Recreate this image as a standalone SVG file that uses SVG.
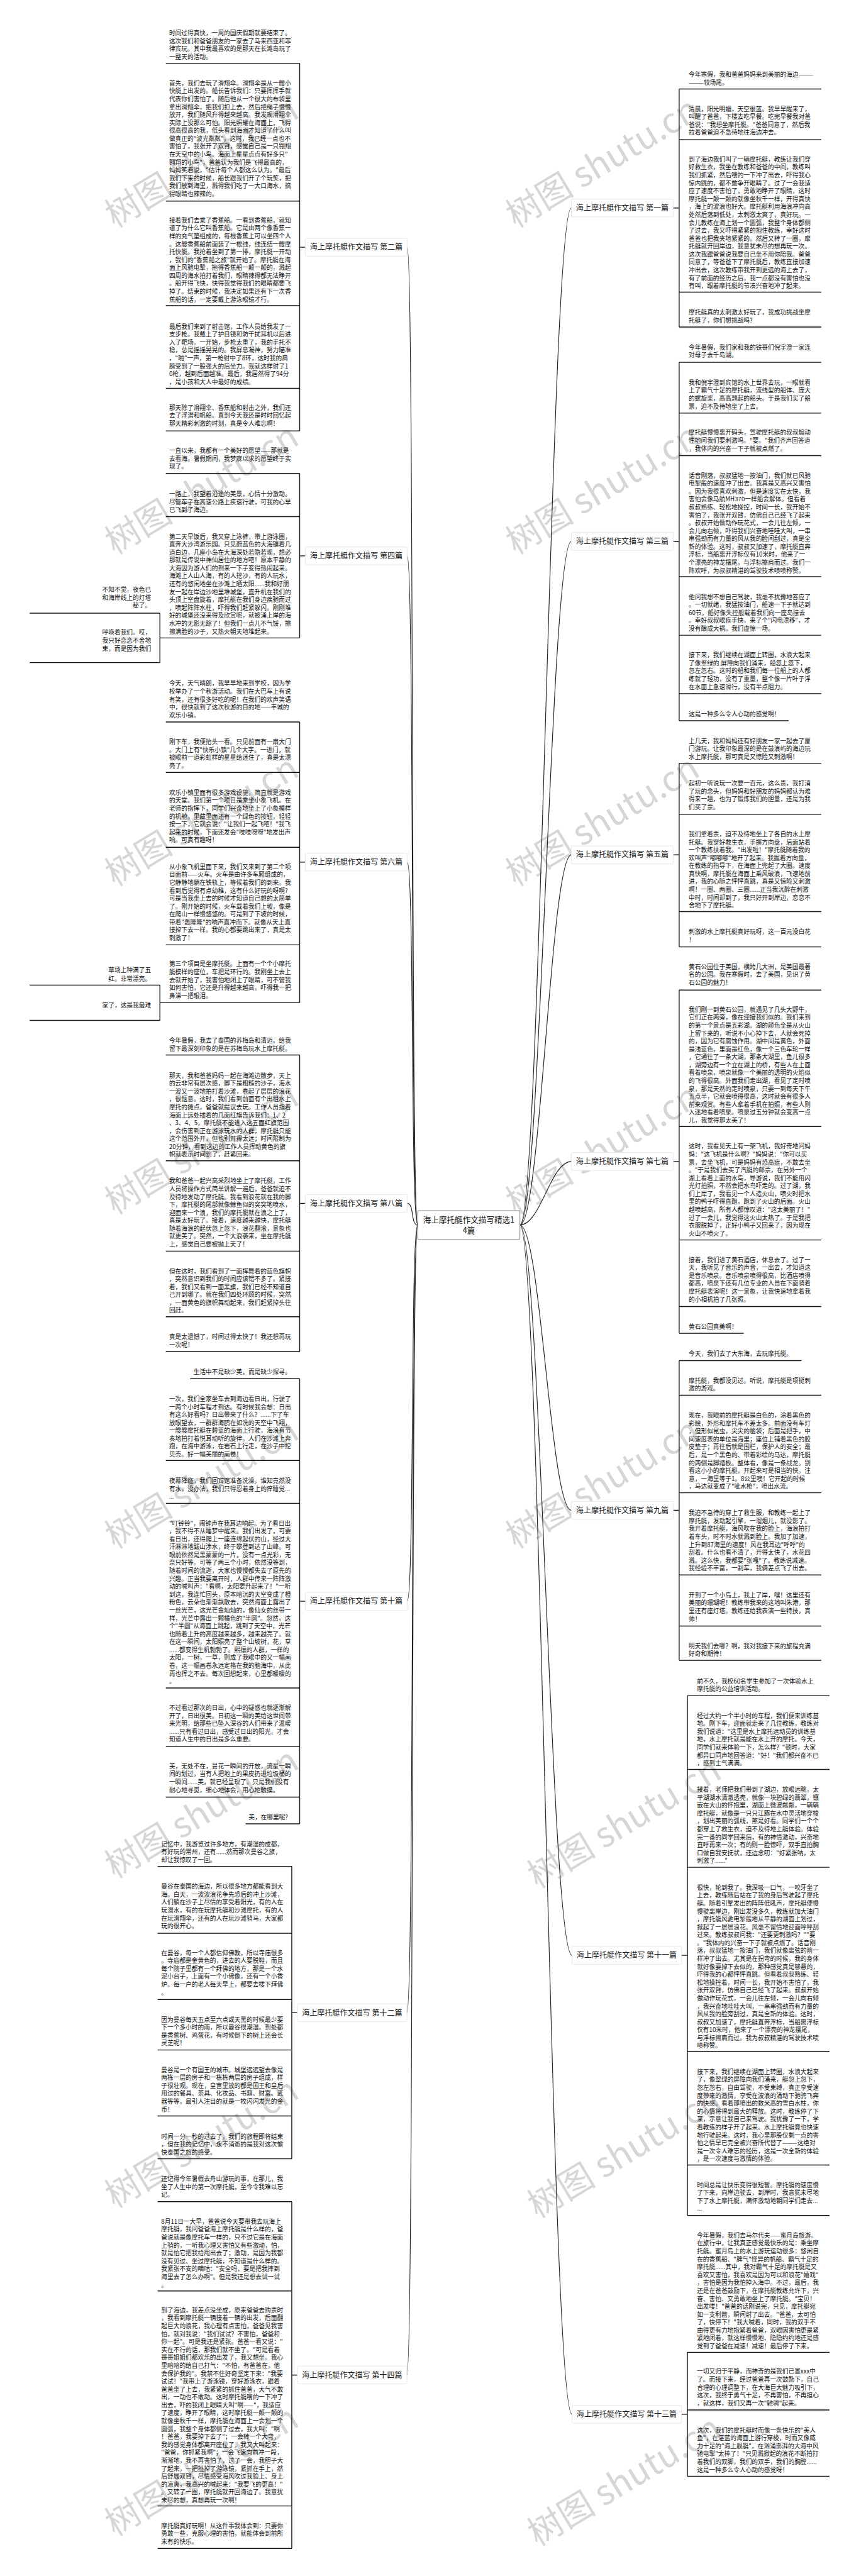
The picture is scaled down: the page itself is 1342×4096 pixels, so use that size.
<svg xmlns="http://www.w3.org/2000/svg" width="1342" height="4096" viewBox="0 0 1342 4096">
<style>
.t{font-family:"Noto Sans CJK SC","Noto Sans",sans-serif;font-size:18.5px;fill:#111}
.ln{stroke:#111;stroke-width:2.6;fill:none}
.cv{stroke:#222;stroke-width:2.2;fill:none}
.lb{fill:#fff;stroke:#e2e2e2;stroke-width:1.6}
.lt{font-family:"Noto Sans CJK SC","Noto Sans",sans-serif;font-size:23px;fill:#1a1a1a}
.wm{font-family:"Noto Sans CJK SC","Liberation Serif",serif;font-size:105px;fill:#d6d6d6}
.ce{fill:#fff;stroke:#888;stroke-width:2}
.ctt{font-family:"Noto Sans CJK SC","Noto Sans",sans-serif;font-size:24px;fill:#111;text-anchor:middle}
</style>
<rect width="1342" height="4096" fill="#fff"/>
<g transform="scale(0.52422)">
<g id="watermarks">
<text class="wm" transform="translate(348 693) rotate(-31)">树图 shutu.cn</text>
<text class="wm" transform="translate(348 1684) rotate(-31)">树图 shutu.cn</text>
<text class="wm" transform="translate(348 2690) rotate(-31)">树图 shutu.cn</text>
<text class="wm" transform="translate(348 3686) rotate(-31)">树图 shutu.cn</text>
<text class="wm" transform="translate(348 4700) rotate(-31)">树图 shutu.cn</text>
<text class="wm" transform="translate(348 5700) rotate(-31)">树图 shutu.cn</text>
<text class="wm" transform="translate(348 6700) rotate(-31)">树图 shutu.cn</text>
<text class="wm" transform="translate(348 7695) rotate(-31)">树图 shutu.cn</text>
<text class="wm" transform="translate(1564 693) rotate(-31)">树图 shutu.cn</text>
<text class="wm" transform="translate(1564 1684) rotate(-31)">树图 shutu.cn</text>
<text class="wm" transform="translate(1564 2690) rotate(-31)">树图 shutu.cn</text>
<text class="wm" transform="translate(1564 3686) rotate(-31)">树图 shutu.cn</text>
<text class="wm" transform="translate(1564 4700) rotate(-31)">树图 shutu.cn</text>
<text class="wm" transform="translate(1630 5730) rotate(-31)">树图 shutu.cn</text>
<text class="wm" transform="translate(1630 6730) rotate(-31)">树图 shutu.cn</text>
<text class="wm" transform="translate(1630 7725) rotate(-31)">树图 shutu.cn</text>
</g>

<g id="connectors">
<path class="cv" d="M1267 3716C1245 3716 1257 750 1235 750"/>
<path class="cv" d="M1267 3716C1245 3716 1257 1686 1235 1686"/>
<path class="cv" d="M1267 3716C1245 3716 1257 2615 1235 2615"/>
<path class="cv" d="M1267 3716C1245 3716 1257 3650 1235 3650"/>
<path class="cv" d="M1267 3716C1245 3716 1257 4857 1235 4857"/>
<path class="cv" d="M1267 3716C1245 3716 1257 6105 1234 6105"/>
<path class="cv" d="M1267 3716C1245 3716 1257 7204 1234 7204"/>
<path class="cv" d="M1577 3716C1640 3716 1670 631 1733 631"/>
<path class="cv" d="M1577 3716C1640 3716 1670 1642 1733 1642"/>
<path class="cv" d="M1577 3716C1640 3716 1670 2593 1733 2593"/>
<path class="cv" d="M1577 3716C1640 3716 1670 3523 1733 3523"/>
<path class="cv" d="M1577 3716C1640 3716 1670 4581 1733 4581"/>
<path class="cv" d="M1577 3716C1640 3716 1670 5931 1735 5931"/>
<path class="cv" d="M1577 3716C1640 3716 1670 7323 1735 7323"/>
<path class="ln" d="M926 750H909M909 192V1307"/>
<path class="ln" d="M926 1686H909M909 1436V1935"/>
<path class="ln" d="M926 2615H909M909 2190V3041"/>
<path class="ln" d="M926 3650H909M909 3200V4100"/>
<path class="ln" d="M926 4857H909M909 4182V5532"/>
<path class="ln" d="M902 6105H885M885 5661V6548"/>
<path class="ln" d="M902 7204H885M885 6678V7730"/>
<path class="ln" d="M2042 631H2060M2060 270V992"/>
<path class="ln" d="M2042 1642H2060M2060 1099V2186"/>
<path class="ln" d="M2042 2593H2060M2060 2315V2872"/>
<path class="ln" d="M2042 3523H2060M2060 3003V4044"/>
<path class="ln" d="M2042 4581H2060M2060 4127V5036"/>
<path class="ln" d="M2067 5931H2085M2085 5143V6720"/>
<path class="ln" d="M2067 7323H2085M2085 7135V7511"/>
<path class="ln" d="M503 1935H485M485 1860V2010"/>
<path class="ln" d="M503 3041H485M485 2988V3095"/>
</g>

<g id="center"><rect class="ce" x="1267" y="3672" width="310" height="88" rx="3"/><text class="ctt"><tspan x="1422" y="3708">海上摩托艇作文描写精选1</tspan><tspan x="1422" y="3740">4篇</tspan></text></g>

<g id="b2"><rect class="lb" x="926" y="723" width="309" height="54" rx="2"/><text class="lt" x="940" y="758">海上摩托艇作文描写 第二篇</text></g>
<g id="b4"><rect class="lb" x="926" y="1659" width="309" height="54" rx="2"/><text class="lt" x="940" y="1694">海上摩托艇作文描写 第四篇</text></g>
<g id="b6"><rect class="lb" x="926" y="2588" width="309" height="54" rx="2"/><text class="lt" x="940" y="2623">海上摩托艇作文描写 第六篇</text></g>
<g id="b8"><rect class="lb" x="926" y="3623" width="309" height="54" rx="2"/><text class="lt" x="940" y="3658">海上摩托艇作文描写 第八篇</text></g>
<g id="b10"><rect class="lb" x="926" y="4830" width="309" height="54" rx="2"/><text class="lt" x="940" y="4865">海上摩托艇作文描写 第十篇</text></g>
<g id="b12"><rect class="lb" x="902" y="6078" width="332" height="54" rx="2"/><text class="lt" x="916" y="6113">海上摩托艇作文描写 第十二篇</text></g>
<g id="b14"><rect class="lb" x="902" y="7177" width="332" height="54" rx="2"/><text class="lt" x="916" y="7212">海上摩托艇作文描写 第十四篇</text></g>
<g id="b1"><rect class="lb" x="1733" y="604" width="309" height="54" rx="2"/><text class="lt" x="1747" y="639">海上摩托艇作文描写 第一篇</text></g>
<g id="b3"><rect class="lb" x="1733" y="1615" width="309" height="54" rx="2"/><text class="lt" x="1747" y="1650">海上摩托艇作文描写 第三篇</text></g>
<g id="b5"><rect class="lb" x="1733" y="2566" width="309" height="54" rx="2"/><text class="lt" x="1747" y="2601">海上摩托艇作文描写 第五篇</text></g>
<g id="b7"><rect class="lb" x="1733" y="3496" width="309" height="54" rx="2"/><text class="lt" x="1747" y="3531">海上摩托艇作文描写 第七篇</text></g>
<g id="b9"><rect class="lb" x="1733" y="4554" width="309" height="54" rx="2"/><text class="lt" x="1747" y="4589">海上摩托艇作文描写 第九篇</text></g>
<g id="b11"><rect class="lb" x="1735" y="5904" width="332" height="54" rx="2"/><text class="lt" x="1749" y="5939">海上摩托艇作文描写 第十一篇</text></g>
<g id="b13"><rect class="lb" x="1735" y="7296" width="332" height="54" rx="2"/><text class="lt" x="1749" y="7331">海上摩托艇作文描写 第十三篇</text></g>

<g id="n2-1"><text class="t"><tspan x="513" y="107">时间过得真快，一周的国庆假期就要结束了。</tspan><tspan x="513" y="131">这次我们和爸爸朋友的一家去了马来西亚和菲</tspan><tspan x="513" y="155">律宾玩。其中我最喜欢的是那天在长滩岛玩了</tspan><tspan x="513" y="179">一整天的活动。</tspan></text><path class="ln" d="M503 192H909"/></g>
<g id="n2-2"><text class="t"><tspan x="513" y="259">首先，我们去玩了滑翔伞。滑翔伞是从一艘小</tspan><tspan x="513" y="283">快艇上出发的。船长告诉我们：只要挥挥手就</tspan><tspan x="513" y="307">代表你们害怕了。随后他从一个很大的布袋里</tspan><tspan x="513" y="331">拿出滑翔伞，把我们扣上去，然后把绳子慢慢</tspan><tspan x="513" y="355">放开，我们随风升得越来越高。我发现滑翔伞</tspan><tspan x="513" y="379">实际上没那么可怕。阳光照耀在海面上，飞得</tspan><tspan x="513" y="403">很高很高的我，低头看到海面才知道了什么叫</tspan><tspan x="513" y="427">做真正的"波光粼粼"。这时，我已经一点也不</tspan><tspan x="513" y="451">害怕了，我张开了双臂，感觉自己是一只翱翔</tspan><tspan x="513" y="475">在天空中的小鸟。海面上星星点点有好多只"</tspan><tspan x="513" y="499">翱翔的小鸟"，爸爸认为我们是飞得最高的，</tspan><tspan x="513" y="523">妈妈笑着说，"估计每个人都这么认为。"最后</tspan><tspan x="513" y="547">我们下来的时候，船长跟我们开了个玩笑，把</tspan><tspan x="513" y="571">我们放到海里，溅得我们吃了一大口海水，搞</tspan><tspan x="513" y="595">得眼睛也辣辣的。</tspan></text><path class="ln" d="M503 610H909"/></g>
<g id="n2-3"><text class="t"><tspan x="513" y="675">接着我们去乘了香蕉船。一看到香蕉船，就知</tspan><tspan x="513" y="699">道了为什么它叫香蕉船。它是由两个像香蕉一</tspan><tspan x="513" y="723">样的充气垫组成的，每根香蕉上可以坐四个人</tspan><tspan x="513" y="747">。这艘香蕉船前面装了一根线，线连结一艘摩</tspan><tspan x="513" y="771">托快艇。我抢着坐到了第一排，摩托艇一开动</tspan><tspan x="513" y="795">，我们的"香蕉船之旅"就开始了。摩托艇在海</tspan><tspan x="513" y="819">面上风驰电掣，拖得香蕉船一颠一颠的，溅起</tspan><tspan x="513" y="843">四周的海水拍打着我们，眼睛辣得都无法睁开</tspan><tspan x="513" y="867">。船开得飞快，快得我觉得我们的眼睛都要飞</tspan><tspan x="513" y="891">掉了。结束的时候，我决定如果还有下一次香</tspan><tspan x="513" y="915">蕉船的话，一定要戴上游泳眼镜才行。</tspan></text><path class="ln" d="M503 927H909"/></g>
<g id="n2-4"><text class="t"><tspan x="513" y="997">最后我们来到了射击馆，工作人员给我发了一</tspan><tspan x="513" y="1021">支步枪。我戴上了护目镜和防干扰耳机以后进</tspan><tspan x="513" y="1045">入了靶场。一开始，步枪太重了，我的手托不</tspan><tspan x="513" y="1069">稳，总是摇摇晃晃的。我屏息凝神，努力瞄准</tspan><tspan x="513" y="1093">，"啪"一声，第一枪射中了8环，这时我的肩</tspan><tspan x="513" y="1117">膀受到了一股强大的后坐力。我就这样射了1</tspan><tspan x="513" y="1141">0枪，越到后面越准。最后，我居然得了94分</tspan><tspan x="513" y="1165">，是小孩和大人中最好的成绩。</tspan></text><path class="ln" d="M503 1178H909"/></g>
<g id="n2-5"><text class="t"><tspan x="513" y="1243">那天除了滑翔伞、香蕉船和射击之外，我们还</tspan><tspan x="513" y="1267">去了浮潜和帆船。直到今天我还是时时回忆起</tspan><tspan x="513" y="1291">那天精彩刺激的时刻，真是令人难忘啊！</tspan></text><path class="ln" d="M503 1307H909"/></g>

<g id="n4-1"><text class="t"><tspan x="513" y="1374">一直以来，我都有一个美好的愿望——那就是</tspan><tspan x="513" y="1398">去看海。暑假期间，我梦寐以求的愿望终于实</tspan><tspan x="513" y="1422">现了。</tspan></text><path class="ln" d="M503 1436H909"/></g>
<g id="n4-2"><text class="t"><tspan x="513" y="1505">一路上，我望着沿途的美景，心情十分激动。</tspan><tspan x="513" y="1529">尽管车子在高速公路上疾速行驶，可我的心早</tspan><tspan x="513" y="1553">已飞到了海边。</tspan></text><path class="ln" d="M503 1567H909"/></g>
<g id="n4-3"><text class="t"><tspan x="513" y="1634">第二天早饭后，我又穿上泳裤，带上游泳圈，</tspan><tspan x="513" y="1658">直奔大沙湾游乐园。只见蔚蓝色的大海镶着几</tspan><tspan x="513" y="1682">道白边，几座小岛在大海深处若隐若现，想必</tspan><tspan x="513" y="1706">那就是传说中神仙居住的地方吧！原本平静的</tspan><tspan x="513" y="1730">大海因为游人们的到来一下子变得热闹起来。</tspan><tspan x="513" y="1754">海滩上人山人海，有的人挖沙，有的人玩水，</tspan><tspan x="513" y="1778">还有的悠闲地坐在沙滩上晒太阳......我和好朋</tspan><tspan x="513" y="1802">友一起在岸边沙地里堆城堡，直升机在我们的</tspan><tspan x="513" y="1826">头顶上空盘旋着，摩托艇在我们身边疾驰而过</tspan><tspan x="513" y="1850">，喷起阵阵水柱，吓得我们赶紧躲闪。刚刚堆</tspan><tspan x="513" y="1874">好的城堡还没来得及欣赏呢，就被涌上岸的海</tspan><tspan x="513" y="1898">水冲的无影无踪了！但我们一点儿不气馁，擦</tspan><tspan x="513" y="1922">擦满脸的沙子，又热火朝天地堆起来。</tspan></text><path class="ln" d="M503 1935H909"/></g>
<g id="n4-3a"><text class="t" text-anchor="end"><tspan x="458" y="1796">不知不觉，夜色已</tspan><tspan x="458" y="1819">和海岸线上的灯塔</tspan><tspan x="458" y="1843">秘了。</tspan></text><path class="ln" d="M90 1860H485"/></g>
<g id="n4-3b"><text class="t" text-anchor="end"><tspan x="458" y="1925">呼唤着我们。哎，</tspan><tspan x="458" y="1950">我只好恋恋不舍地</tspan><tspan x="458" y="1974">束，而是因为我们</tspan></text><path class="ln" d="M90 2010H485"/></g>

<g id="n6-1"><text class="t"><tspan x="513" y="2080">今天，天气晴朗，我早早地来到学校，因为学</tspan><tspan x="513" y="2104">校举办了一个秋游活动。我们在大巴车上有说</tspan><tspan x="513" y="2128">有笑，还有很多好吃的呢！在我们的欢声笑语</tspan><tspan x="513" y="2152">中，很快就到了这次秋游的目的地——丰城的</tspan><tspan x="513" y="2176">欢乐小镇。</tspan></text><path class="ln" d="M503 2190H909"/></g>
<g id="n6-2"><text class="t"><tspan x="513" y="2257">刚下车，我便抬头一看。只见前面有一扇大门</tspan><tspan x="513" y="2281">。大门上有"快乐小镇"几个大字。一进门，就</tspan><tspan x="513" y="2305">被眼前一道彩虹样的星星给迷住了，真是太漂</tspan><tspan x="513" y="2329">亮了。</tspan></text><path class="ln" d="M503 2343H909"/></g>
<g id="n6-3"><text class="t"><tspan x="513" y="2411">欢乐小镇里面有很多游戏设施，简直就是游戏</tspan><tspan x="513" y="2435">的天堂。我们第一个项目是乘坐小象飞机。在</tspan><tspan x="513" y="2459">老师的指挥下，同学们兴奋地坐上了小象模样</tspan><tspan x="513" y="2483">的机舱，里藏里面还有一个绿色的按钮，轻轻</tspan><tspan x="513" y="2507">按一下，它就会说："让我们一起飞吧！"我飞</tspan><tspan x="513" y="2531">起来的时候，下面还发会"吱吱呀呀"地发出声</tspan><tspan x="513" y="2555">响。可真有趣呀！</tspan></text><path class="ln" d="M503 2570H909"/></g>
<g id="n6-4"><text class="t"><tspan x="513" y="2636">从小象飞机里面下来，我们又来到了第二个项</tspan><tspan x="513" y="2660">目面前——火车。火车是由许多车厢组成的，</tspan><tspan x="513" y="2684">它静静地躺在铁轨上，等候着我们的到来。我</tspan><tspan x="513" y="2708">看到后觉得有点幼稚，这有什么好玩的呀啊?</tspan><tspan x="513" y="2732">可是当我坐上去的时候才知道自己想的太简单</tspan><tspan x="513" y="2756">了。刚开始的时候，火车载着我们上坡，像是</tspan><tspan x="513" y="2780">在爬山一样慢悠悠的。可是到了下坡的时候，</tspan><tspan x="513" y="2804">带着"轰隆隆"的响声直冲而下。就像从天上直</tspan><tspan x="513" y="2828">接掉下去一样。我的心都要跳出来了，真是太</tspan><tspan x="513" y="2852">刺激了！</tspan></text><path class="ln" d="M503 2866H909"/></g>
<g id="n6-5"><text class="t"><tspan x="513" y="2931">第三个项目是坐摩托艇。上面有一个个小摩托</tspan><tspan x="513" y="2955">艇模样的座位，车把是环行的。我刚坐上去上</tspan><tspan x="513" y="2979">去就开始了，我害怕地闭上了眼睛，可不管我</tspan><tspan x="513" y="3003">如何害怕，它还是升得越来越高，吓得我一把</tspan><tspan x="513" y="3027">鼻涕一把眼泪。</tspan></text><path class="ln" d="M503 3041H909"/></g>
<g id="n6-5a"><text class="t" text-anchor="end"><tspan x="458" y="2949">草场上种满了五</tspan><tspan x="458" y="2975">红。非常漂亮。</tspan></text><path class="ln" d="M90 2988H485"/></g>
<g id="n6-5b"><text class="t" text-anchor="end"><tspan x="458" y="3056">家了，这是我最难</tspan></text><path class="ln" d="M90 3095H485"/></g>

<g id="n8-1"><text class="t"><tspan x="513" y="3163">今年暑假，我去了泰国的苏梅岛和清迈。给我</tspan><tspan x="513" y="3187">留下最深刻印象的是在苏梅岛玩水上摩托艇。</tspan></text><path class="ln" d="M503 3200H909"/></g>
<g id="n8-2"><text class="t"><tspan x="513" y="3269">那天，我和爸爸妈妈一起在海滩边散步，天上</tspan><tspan x="513" y="3293">的云非常有层次感，脚下是粗糙的沙子，海水</tspan><tspan x="513" y="3317">一波又一波地拍打着沙滩，卷起了层层的浪花</tspan><tspan x="513" y="3341">，很惬意。这时，我们看到前面有个出租水上</tspan><tspan x="513" y="3365">摩托的摊点，爸爸就提议去玩。工作人员指着</tspan><tspan x="513" y="3389">海面上远处插着的几面红旗告诉我们：1、2</tspan><tspan x="513" y="3413">、3、4、5，摩托艇不能进入这五面红旗范围</tspan><tspan x="513" y="3437">，会伤害到正在游泳玩水的人群，摩托艇只能</tspan><tspan x="513" y="3461">这个范围外开，但也别开得太远；时间限制为</tspan><tspan x="513" y="3485">20分钟，看到这边的工作人员挥动黄色的旗</tspan><tspan x="513" y="3509">帜就表示时间到了，赶紧回来。</tspan></text><path class="ln" d="M503 3521H909"/></g>
<g id="n8-3"><text class="t"><tspan x="513" y="3589">我和爸爸一起兴高采烈地坐上了摩托艇，工作</tspan><tspan x="513" y="3613">人员将操作方式简单讲解一遍后，爸爸就迫不</tspan><tspan x="513" y="3637">及待地发动了摩托艇。我看到浪花就在我的脚</tspan><tspan x="513" y="3661">下，摩托艇的尾部就像鲸鱼似的突突地喷水，</tspan><tspan x="513" y="3685">迎面来一个浪，我们的摩托艇就在浪之上了，</tspan><tspan x="513" y="3709">真是太好玩了。接着，速度越来越快，摩托艇</tspan><tspan x="513" y="3733">随着海浪的起伏忽上忽下，浪花翻滚，景象也</tspan><tspan x="513" y="3757">就更美了。突然，一个大浪袭来，坐在摩托艇</tspan><tspan x="513" y="3781">上，感觉自己要被抛上天了！</tspan></text><path class="ln" d="M503 3795H909"/></g>
<g id="n8-4"><text class="t"><tspan x="513" y="3862">但在这时，我们看到了一面挥舞着的蓝色旗帜</tspan><tspan x="513" y="3886">，突然意识到我们的时间应该错不多了。紧接</tspan><tspan x="513" y="3910">着，我们又看到一面黑旗，我们已经不知道自</tspan><tspan x="513" y="3934">己开到哪了。就在我们四处环顾的时候，突然</tspan><tspan x="513" y="3958">，一面黄色的旗帜舞动起来，我们赶紧掉头往</tspan><tspan x="513" y="3982">回赶。</tspan></text><path class="ln" d="M503 3994H909"/></g>
<g id="n8-5"><text class="t"><tspan x="513" y="4062">真是太遗憾了，时间过得太快了！我还想再玩</tspan><tspan x="513" y="4086">一次呢！</tspan></text><path class="ln" d="M503 4100H909"/></g>

<g id="n10-1"><text class="t"><tspan x="587" y="4168">生活中不是缺少美，而是缺少探寻。</tspan></text><path class="ln" d="M577 4182H909"/></g>
<g id="n10-2"><text class="t"><tspan x="513" y="4250">一次，我们全家坐车去到海边看日出，行驶了</tspan><tspan x="513" y="4274">一两个小时车程才到达。有时候我会想：日出</tspan><tspan x="513" y="4298">有这么好看吗？日出带来了什么？......下了车</tspan><tspan x="513" y="4322">放眼望去，一群群海鸥在如洗的天空中飞翔，</tspan><tspan x="513" y="4346">一艘艘摩托艇在碧蓝的海面上行驶，海浪有节</tspan><tspan x="513" y="4370">奏地拍打着悦耳动听的旋律。人们在沙滩上奔</tspan><tspan x="513" y="4394">跑，在海中游泳，在岩石上行走，在沙子中挖</tspan><tspan x="513" y="4418">贝壳。好一幅美丽的画卷！</tspan></text><path class="ln" d="M503 4430H909"/></g>
<g id="n10-3"><text class="t"><tspan x="513" y="4498">夜幕降临，我们回宾馆准备洗澡，谁知竟然没</tspan><tspan x="513" y="4522">有水，没办法，我们只得忍着身上的痒睡觉...</tspan><tspan x="513" y="4546">...</tspan></text><path class="ln" d="M503 4560H909"/></g>
<g id="n10-4"><text class="t"><tspan x="513" y="4627">"叮铃铃"，闹钟声在我耳边响起。为了看日出</tspan><tspan x="513" y="4651">，我不得不从睡梦中醒来。我们出发了，可要</tspan><tspan x="513" y="4675">看日出，还得爬上一座连绵起伏的山，经过大</tspan><tspan x="513" y="4699">汗淋淋地跋山涉水，终于攀登到达了山峰。可</tspan><tspan x="513" y="4723">眼前依然是黑蒙蒙的一片，没有一点光彩，无</tspan><tspan x="513" y="4747">奈只好等。可等了两三个小时，依然没等到，</tspan><tspan x="513" y="4771">随着时间的流逝，大家也慢慢都失去了原先的</tspan><tspan x="513" y="4795">兴趣。正当我要离开时，人群中传来一阵阵激</tspan><tspan x="513" y="4819">动的喊叫声："看啊，太阳要升起来了！"一听</tspan><tspan x="513" y="4843">到这，我连忙回头，原本暗沉的天空变成了橙</tspan><tspan x="513" y="4867">粉色，云朵也渐渐飘散去，突然海面上露出了</tspan><tspan x="513" y="4891">一丝光芒，这光芒金灿灿的，像仙女的丝带一</tspan><tspan x="513" y="4915">样，光芒中露出一颗橘色的"半圆"。忽然，这</tspan><tspan x="513" y="4939">个"半圆"从海面上跳起，跳到了天空中，光芒</tspan><tspan x="513" y="4963">也随着上升的高度越来越多，越来越亮了。就</tspan><tspan x="513" y="4987">在这一瞬间，太阳照亮了整个山坡树，花，草</tspan><tspan x="513" y="5011">......都变得生机勃勃了。熙攘的人群，一样的</tspan><tspan x="513" y="5035">太阳，一树，一草，则成了我眼中的又一幅画</tspan><tspan x="513" y="5059">卷，这一幅画卷永远定格在我的脑海中，从此</tspan><tspan x="513" y="5083">再也挥之不去。每次回想起来，心里都暖暖的</tspan><tspan x="513" y="5107">。</tspan></text><path class="ln" d="M503 5120H909"/></g>
<g id="n10-5"><text class="t"><tspan x="513" y="5187">不过看过那次的日出，心中的疑惑也就逐渐解</tspan><tspan x="513" y="5211">开了，日出很美。日初这一瞬的美给这世间带</tspan><tspan x="513" y="5235">来光明，给那些已坠入深谷的人们带来了温暖</tspan><tspan x="513" y="5259">......只有看过日出，感受过日出的阳光，才会</tspan><tspan x="513" y="5283">知道人生中的日出是多么重要。</tspan></text><path class="ln" d="M503 5298H909"/></g>
<g id="n10-6"><text class="t"><tspan x="513" y="5364">美，无处不在，昙花一瞬间的开放，流星一瞬</tspan><tspan x="513" y="5388">间的划过，当有人把地上的果皮扔进垃圾桶的</tspan><tspan x="513" y="5412">一瞬间......美，就已经呈现了。只是我们没有</tspan><tspan x="513" y="5436">耐心地寻觅，细心地体会，用心地触摸。</tspan></text><path class="ln" d="M503 5451H909"/></g>
<g id="n10-7"><text class="t"><tspan x="754" y="5519">美，在哪里呢?</tspan></text><path class="ln" d="M745 5532H909"/></g>

<g id="n12-1"><text class="t"><tspan x="489" y="5600">记忆中，我游览过许多地方，有潮湿的成都，</tspan><tspan x="489" y="5624">有好玩的常州，还有......然而那次曼谷之旅，</tspan><tspan x="489" y="5648">却让我惊叹了一回。</tspan></text><path class="ln" d="M478 5661H885"/></g>
<g id="n12-2"><text class="t"><tspan x="489" y="5729">曼谷在泰国的海边，所以很多地方都能看到大</tspan><tspan x="489" y="5753">海。白天，一波波浪花争先恐后的冲上沙滩，</tspan><tspan x="489" y="5777">人们躺在沙子上尽情的享受着阳光，有的人在</tspan><tspan x="489" y="5801">玩潜水，有的在玩摩托艇和沙滩摩托，有的人</tspan><tspan x="489" y="5825">在玩滑翔伞，还有的人在玩沙滩骑马，大家都</tspan><tspan x="489" y="5849">玩的很开心。</tspan></text><path class="ln" d="M478 5864H885"/></g>
<g id="n12-3"><text class="t"><tspan x="489" y="5930">在曼谷，每一个人都信仰佛教，所以寺庙很多</tspan><tspan x="489" y="5954">。寺庙都是金黄色的，进去的人要脱鞋，而且</tspan><tspan x="489" y="5978">每个院子里都有一个拜佛的地方，那是一个水</tspan><tspan x="489" y="6002">泥小台子，上面有一个小佛像，还有一个小香</tspan><tspan x="489" y="6026">炉。每一户的老人每天早上，都要去楼下拜佛</tspan><tspan x="489" y="6050">。</tspan></text><path class="ln" d="M478 6065H885"/></g>
<g id="n12-4"><text class="t"><tspan x="489" y="6132">因为曼谷每天五点至六点或天黑的时候最少要</tspan><tspan x="489" y="6156">下一个多小时的雨，所以曼谷很潮湿。到处都</tspan><tspan x="489" y="6180">是香蕉树、鸡蛋花，有时候倒下的树上还会长</tspan><tspan x="489" y="6204">灵芝呢！</tspan></text><path class="ln" d="M478 6218H885"/></g>
<g id="n12-5"><text class="t"><tspan x="489" y="6285">曼谷是一个有国王的城市。城堡远远望去像是</tspan><tspan x="489" y="6309">两栋一层的房子和一栋栋两层的房子组成，样</tspan><tspan x="489" y="6333">子很壮观。现在，皇宫里放的都是国王和皇后</tspan><tspan x="489" y="6357">用过的餐具、茶具、化妆品、书籍、财富、武</tspan><tspan x="489" y="6381">器等等。最引人注目的就是一枚闪闪发光的金</tspan><tspan x="489" y="6405">币！</tspan></text><path class="ln" d="M478 6418H885"/></g>
<g id="n12-6"><text class="t"><tspan x="489" y="6487">时间一分一秒的过去了，我们的旅程即将结束</tspan><tspan x="489" y="6511">，但在我的记忆中，永不消逝的是我对这次愉</tspan><tspan x="489" y="6535">快泰国之旅的感受。</tspan></text><path class="ln" d="M478 6548H885"/></g>

<g id="n14-1"><text class="t"><tspan x="489" y="6616">还记得今年暑假去舟山游玩的事，在那儿，我</tspan><tspan x="489" y="6640">坐了人生中的第一次摩托艇，至今令我难以忘</tspan><tspan x="489" y="6664">记。</tspan></text><path class="ln" d="M478 6678H885"/></g>
<g id="n14-2"><text class="t"><tspan x="489" y="6745">8月11日一大早，爸爸说今天要带我去玩海上</tspan><tspan x="489" y="6769">摩托艇，我问爸爸海上摩托艇是什么样的，爸</tspan><tspan x="489" y="6793">爸说就是像摩托车一样的，只不过它是在海面</tspan><tspan x="489" y="6817">上骑的，一听我心理又害怕又有些激动，怕，</tspan><tspan x="489" y="6841">就是怕它把我给甩出去了；激动，是因为我都</tspan><tspan x="489" y="6865">没有见过、坐过摩托艇，不知道是什么样的。</tspan><tspan x="489" y="6889">我紧张不安的嘀咕："安全吗，要是把我摔到</tspan><tspan x="489" y="6913">海里去了怎么办啊"。但是我还是想去试一试</tspan><tspan x="489" y="6937">。</tspan></text><path class="ln" d="M478 6949H885"/></g>
<g id="n14-3"><text class="t"><tspan x="489" y="7014">到了海边，我差点没坐成，原来爸爸去购票时</tspan><tspan x="489" y="7038">，我看到摩托艇一辆接着一辆的出发，后面翻</tspan><tspan x="489" y="7062">起巨大的浪花，我心理有点害怕，爸爸见我害</tspan><tspan x="489" y="7086">怕，就对我说："我们试试？不害怕，爸爸和</tspan><tspan x="489" y="7110">你一起"。可是我还是紧张。爸爸一看又说："</tspan><tspan x="489" y="7134">实在不行的话，那我们就不坐了。"可是看着</tspan><tspan x="489" y="7158">哥哥姐姐们都欢乐的出发了，我又想坐。我心</tspan><tspan x="489" y="7182">里暗暗的给自己打气："不怕，有爸爸在，他</tspan><tspan x="489" y="7206">会保护我的"。我禁不住好奇坚定下来："我要</tspan><tspan x="489" y="7230">试试！"我带上了游泳镜，穿好游泳衣，跟着</tspan><tspan x="489" y="7254">爸爸坐了上去，我紧紧的抓住爸爸，大气不敢</tspan><tspan x="489" y="7278">出，一动也不敢动。这时摩托艇嗖的一下冲了</tspan><tspan x="489" y="7302">出去，吓的我闭上眼睛大叫"啊——"，我适应</tspan><tspan x="489" y="7326">了速度，睁开了眼睛，这时摩托艇一颠一颠的</tspan><tspan x="489" y="7350">就像坐秋千一样，摩托艇在海面上一会划一个</tspan><tspan x="489" y="7374">圆弧，我整个身体都侧了过去，我大叫："啊</tspan><tspan x="489" y="7398">！爸爸，我要掉下去了"；一会转一个大弯，</tspan><tspan x="489" y="7422">我的感觉身体都离开座位了，我又大叫起来：</tspan><tspan x="489" y="7446">"爸爸，你抓紧我啊"；一会飞速向前冲一段，</tspan><tspan x="489" y="7470">渐渐地，我不再害怕了，过了一会，我胆子大</tspan><tspan x="489" y="7494">了起来，一把扯掉了游泳镜，紧抓在手上，然</tspan><tspan x="489" y="7518">后舒展双臂，尽情感受海风吹过我脸上、身上</tspan><tspan x="489" y="7542">的凉爽，我高兴的喊起来："我要飞的更高！"</tspan><tspan x="489" y="7566">。又转了一圈，摩托艇就开回海边了。我意犹</tspan><tspan x="489" y="7590">未尽的想，真想再玩一次啊！</tspan></text><path class="ln" d="M478 7601H885"/></g>
<g id="n14-4"><text class="t"><tspan x="489" y="7668">摩托艇真好玩啊！从这件事我体会到：只要你</tspan><tspan x="489" y="7692">勇敢一些，克服心理的害怕，就能体会到前所</tspan><tspan x="489" y="7716">未有的快乐。</tspan></text><path class="ln" d="M478 7730H885"/></g>

<g id="n1-1"><text class="t"><tspan x="2089" y="233">今年寒假，我和爸爸妈妈来到美丽的海边———</tspan><tspan x="2089" y="257">———较场尾。</tspan></text><path class="ln" d="M2060 270H2491"/></g>
<g id="n1-2"><text class="t"><tspan x="2089" y="337">清晨，阳光明媚，天空很蓝。我早早醒来了，</tspan><tspan x="2089" y="361">叫醒了爸爸，下楼去吃早餐。吃完早餐我对爸</tspan><tspan x="2089" y="385">爸说："我想坐摩托艇。"爸爸同意了，然后我</tspan><tspan x="2089" y="409">拉着爸爸迫不急待地往海边冲去。</tspan></text><path class="ln" d="M2060 424H2491"/></g>
<g id="n1-3"><text class="t"><tspan x="2089" y="490">到了海边我们叫了一辆摩托艇，教练让我们穿</tspan><tspan x="2089" y="514">好救生衣，我坐在教练和爸爸的中间，教练叫</tspan><tspan x="2089" y="538">我们抓紧，然后嗖的一下冲了出去，吓得我心</tspan><tspan x="2089" y="562">惊内跳的，都不敢争开眼睛了。过了一会我适</tspan><tspan x="2089" y="586">应了速度不害怕了，勇敢地睁开了眼睛，这时</tspan><tspan x="2089" y="610">摩托艇一颠一颠的就像坐秋千一样，开得真快</tspan><tspan x="2089" y="634">，海上的波浪也好大。摩托艇利用海浪冲向高</tspan><tspan x="2089" y="658">处然后落到低处，太刺激太爽了，真好玩。一</tspan><tspan x="2089" y="682">会儿教练在海上划一个圆弧，我整个身体都侧</tspan><tspan x="2089" y="706">了过去，我又吓得紧紧的抱住教练，幸好这时</tspan><tspan x="2089" y="730">爸爸也把我夹地紧紧的。然后又转了一圈，摩</tspan><tspan x="2089" y="754">托艇就开回岸边，我意犹未尽的想再玩一次。</tspan><tspan x="2089" y="778">这次我跟爸爸说我要自己坐不用你陪我。爸爸</tspan><tspan x="2089" y="802">同意了，等爸爸下了摩托艇后，教练直接加速</tspan><tspan x="2089" y="826">冲出去，这次教练带我开到更远的海上去了，</tspan><tspan x="2089" y="850">有了前面的经历之后，我一点都没有害怕也没</tspan><tspan x="2089" y="874">有叫，跟着摩托艇的节凑兴奋地冲了起来。</tspan></text><path class="ln" d="M2060 886H2491"/></g>
<g id="n1-4"><text class="t"><tspan x="2089" y="954">摩托艇真的太刺激太好玩了，我成功挑战坐摩</tspan><tspan x="2089" y="978">托艇了，你们想挑战吗?</tspan></text><path class="ln" d="M2060 992H2491"/></g>

<g id="n3-1"><text class="t"><tspan x="2089" y="1060">今年暑假，我们家和我的铁哥们倪宇澄一家连</tspan><tspan x="2089" y="1084">对母子去千岛湖。</tspan></text><path class="ln" d="M2060 1099H2491"/></g>
<g id="n3-2"><text class="t"><tspan x="2089" y="1167">我和倪宇澄到宾馆的水上世界去玩，一眼就看</tspan><tspan x="2089" y="1191">上了霸气十足的摩托艇，流线型的船体、庞大</tspan><tspan x="2089" y="1215">的螺旋桨，高高翘起的船头。于是我们买了船</tspan><tspan x="2089" y="1239">票，迫不及待地坐了上去。</tspan></text><path class="ln" d="M2060 1253H2491"/></g>
<g id="n3-3"><text class="t"><tspan x="2089" y="1319">摩托艇慢慢离开码头，驾驶摩托艇的叔叔煽动</tspan><tspan x="2089" y="1343">性地问我们要刺激吗。"要。"我们齐声回答道</tspan><tspan x="2089" y="1367">，我体内的兴奋一下子就被点燃了。</tspan></text><path class="ln" d="M2060 1382H2491"/></g>
<g id="n3-4"><text class="t"><tspan x="2089" y="1449">话音刚落，叔叔猛地一按油门，我们就已风驰</tspan><tspan x="2089" y="1473">电掣般的速度冲了出去。我真是又高兴又害怕</tspan><tspan x="2089" y="1497">。因为我很喜欢刺激，但是速度实在太快，我</tspan><tspan x="2089" y="1521">害怕会像马航MH370一样船会解体。但看着</tspan><tspan x="2089" y="1545">叔叔熟练、轻松地操控，时间一长，我开始不</tspan><tspan x="2089" y="1569">害怕了，我张开双臂，仿佛自己已经飞了起来</tspan><tspan x="2089" y="1593">。叔叔开始做动作玩花式，一会儿往左倾，一</tspan><tspan x="2089" y="1617">会儿向右倾，吓得我们兴奋地哇哇大叫，一串</tspan><tspan x="2089" y="1641">串强劲而有力量的风从我的脸间刮过，真是全</tspan><tspan x="2089" y="1665">新的体验。这时，叔叔又加速了，摩托艇直奔</tspan><tspan x="2089" y="1689">浮标，当船离开浮标仅有10米时，他来了一</tspan><tspan x="2089" y="1713">个漂亮的神龙摆尾，与浮标擦肩而过。我们一</tspan><tspan x="2089" y="1737">阵欢呼，为叔叔精湛的驾驶技术啧啧称赞。</tspan></text><path class="ln" d="M2060 1749H2491"/></g>
<g id="n3-5"><text class="t"><tspan x="2089" y="1817">他问我想不想自己驾驶，我毫不犹豫地答应了</tspan><tspan x="2089" y="1841">。一切就绪，我猛按油门，船速一下子就达到</tspan><tspan x="2089" y="1865">60节，船好像失控般载着我们向一座岛撞去</tspan><tspan x="2089" y="1889">。幸好叔叔眼疾手快，来了个"闪电漂移"，才</tspan><tspan x="2089" y="1913">没有酿成大祸。我们虚惊一场。</tspan></text><path class="ln" d="M2060 1927H2491"/></g>
<g id="n3-6"><text class="t"><tspan x="2089" y="1994">接下来，我们继续在湖面上转圈，水浪大起来</tspan><tspan x="2089" y="2018">了像翠绿的.屏障向我们涌来，船忽上忽下，</tspan><tspan x="2089" y="2042">忽左忽右。这时的船和我们每一位船上的人都</tspan><tspan x="2089" y="2066">练就了轻功，没有了重量，整个像一片叶子浮</tspan><tspan x="2089" y="2090">在水面上急速滑行，没有半点阻力。</tspan></text><path class="ln" d="M2060 2104H2491"/></g>
<g id="n3-7"><text class="t"><tspan x="2089" y="2172">这是一种多么令人心动的感觉啊！</tspan></text><path class="ln" d="M2060 2186H2392"/></g>

<g id="n5-1"><text class="t"><tspan x="2089" y="2254">上几天，我和妈妈还有好朋友一家一起去了厦</tspan><tspan x="2089" y="2278">门游玩。让我印象最深的是在鼓浪屿的海边玩</tspan><tspan x="2089" y="2302">水上摩托艇，那可真是又惊险又刺激啊！</tspan></text><path class="ln" d="M2060 2315H2491"/></g>
<g id="n5-2"><text class="t"><tspan x="2089" y="2383">起初一听说玩一次要一百元，这么贵，我打消</tspan><tspan x="2089" y="2407">了玩的念头，但妈妈和好朋友的妈妈都认为难</tspan><tspan x="2089" y="2431">得来一趟，也为了锻炼我们的胆量，还是为我</tspan><tspan x="2089" y="2455">们买了票。</tspan></text><path class="ln" d="M2060 2470H2491"/></g>
<g id="n5-3"><text class="t"><tspan x="2089" y="2537">我们拿着票，迫不及待地坐上了各自的水上摩</tspan><tspan x="2089" y="2561">托艇。我穿好救生衣，手握方向盘，后面站着</tspan><tspan x="2089" y="2585">一个教练扶着我。"出发啦！"摩托艇随着我的</tspan><tspan x="2089" y="2609">欢叫声"嘟嘟嘟"地开了起来。我握着方向盘，</tspan><tspan x="2089" y="2633">在教练的指导下，在海面上兜起了大圈。速度</tspan><tspan x="2089" y="2657">真快啊，摩托艇在海面上乘风破浪，飞速地前</tspan><tspan x="2089" y="2681">进，我的心随之怦怦直跳，真是又惊险又刺激</tspan><tspan x="2089" y="2705">啊！一圈、两圈、三圈......正当我沉醉在刺激</tspan><tspan x="2089" y="2729">中时，时间却到了，我只好开到岸边，恋恋不</tspan><tspan x="2089" y="2753">舍地下了摩托艇。</tspan></text><path class="ln" d="M2060 2765H2491"/></g>
<g id="n5-4"><text class="t"><tspan x="2089" y="2833">刺激的水上摩托艇真好玩呀，这一百元没白花</tspan><tspan x="2089" y="2857">！</tspan></text><path class="ln" d="M2060 2872H2491"/></g>

<g id="n7-1"><text class="t"><tspan x="2089" y="2939">黄石公园位于美国，横跨几大洲，是美国最著</tspan><tspan x="2089" y="2963">名的公园。我在寒假时，去了美国，见识了黄</tspan><tspan x="2089" y="2987">石公园的魅力！</tspan></text><path class="ln" d="M2060 3003H2491"/></g>
<g id="n7-2"><text class="t"><tspan x="2089" y="3069">我们刚一到黄石公园，就遇见了几头大野牛，</tspan><tspan x="2089" y="3093">它们正在两旁，像在迎接我们似的。我们来到</tspan><tspan x="2089" y="3117">的第一个景点是五彩湖。湖的颜色全是从火山</tspan><tspan x="2089" y="3141">上留下来的，听说不小心掉下去，人就会死掉</tspan><tspan x="2089" y="3165">的，因为它有腐蚀作用。湖中间是黄色，外面</tspan><tspan x="2089" y="3189">是浅蓝色，里面是红色，像一个三色车轮一样</tspan><tspan x="2089" y="3213">，它通往了一条大湖，那条大湖里，鱼儿很多</tspan><tspan x="2089" y="3237">，湖旁边有一个立在湖上的桥，有些人在上面</tspan><tspan x="2089" y="3261">看着喷泉，喷泉就像一个美丽的透明的火焰似</tspan><tspan x="2089" y="3285">的飞得很高。外面我们走出湖，看见了定时喷</tspan><tspan x="2089" y="3309">泉，那是天然的定时喷泉，只要一到每天下午</tspan><tspan x="2089" y="3333">五点半，它就会喷得很高，这时就会有很多人</tspan><tspan x="2089" y="3357">前来观赏。有些人拿着手机在拍照，有些人则</tspan><tspan x="2089" y="3381">入迷地看着喷泉。喷泉过五分钟就会变高一点</tspan><tspan x="2089" y="3405">儿，我觉得那太美了！</tspan></text><path class="ln" d="M2060 3417H2491"/></g>
<g id="n7-3"><text class="t"><tspan x="2089" y="3484">这时，我看见天上有一架飞机，我好奇地问妈</tspan><tspan x="2089" y="3508">妈："这飞机是什么啊？"妈妈说："你可以买</tspan><tspan x="2089" y="3532">票，去坐飞机，可是妈妈有恐高症，不敢去坐</tspan><tspan x="2089" y="3556">。"于是我们去买了汽艇的邮票，在另外一个</tspan><tspan x="2089" y="3580">湖上看着上面的水鸟，导游说，我们不能用闪</tspan><tspan x="2089" y="3604">光灯拍照，不然会把水鸟吓走的。过了湖，我</tspan><tspan x="2089" y="3628">们上岸了，我看见一个人造火山，喷火时把水</tspan><tspan x="2089" y="3652">里的鸭子吓得直跑，跑到了火山的后面。火山</tspan><tspan x="2089" y="3676">越喷越高，所有人都惊叹道："这太美丽了！"</tspan><tspan x="2089" y="3700">过了一会儿，我觉得这火山太热了。于是我把</tspan><tspan x="2089" y="3724">衣服脱掉了，正好小鸭子又回来了，因为现在</tspan><tspan x="2089" y="3748">火山不喷火了。</tspan></text><path class="ln" d="M2060 3761H2491"/></g>
<g id="n7-4"><text class="t"><tspan x="2089" y="3828">接着，我们进了黄石酒店，休息去了。过了一</tspan><tspan x="2089" y="3852">天，我听见了音乐的声音，一出去，才知道这</tspan><tspan x="2089" y="3876">是音乐喷泉。音乐喷泉喷得很高，比酒店喷得</tspan><tspan x="2089" y="3900">都高，喷泉下还有几位专业的人员在下面骑着</tspan><tspan x="2089" y="3924">摩托艇表演呢！这一景象，让我快速地拿着我</tspan><tspan x="2089" y="3948">的小相机拍了几张照。</tspan></text><path class="ln" d="M2060 3963H2491"/></g>
<g id="n7-5"><text class="t"><tspan x="2089" y="4031">黄石公园真美啊！</tspan></text><path class="ln" d="M2060 4044H2256"/></g>

<g id="n9-1"><text class="t"><tspan x="2089" y="4112">今天，我们去了大东海，去玩摩托艇。</tspan></text><path class="ln" d="M2060 4127H2431"/></g>
<g id="n9-2"><text class="t"><tspan x="2089" y="4194">摩托艇，我都没见过。听说，摩托艇是项挺刺</tspan><tspan x="2089" y="4218">激的游戏。</tspan></text><path class="ln" d="M2060 4232H2491"/></g>
<g id="n9-3"><text class="t"><tspan x="2089" y="4300">现在，我眼前的摩托艇是白色的，涂着黑色的</tspan><tspan x="2089" y="4324">彩绘，外形和摩托车不差太多。前面没有车灯</tspan><tspan x="2089" y="4348">，但形似昆虫，尖尖的脑袋；后面是把手，中</tspan><tspan x="2089" y="4372">间速度表的单位是海里；座位上铺着黑色的胶</tspan><tspan x="2089" y="4396">皮垫子；再往后就是围栏，保护人的安全；最</tspan><tspan x="2089" y="4420">后，是一个黑色的、带着彩绘的马达，摩托艇</tspan><tspan x="2089" y="4444">的两侧是脚踏板。整体看，像是一条战龙。别</tspan><tspan x="2089" y="4468">看这小小的摩托艇，开起来可是相当的快。注</tspan><tspan x="2089" y="4492">意，一海里等于1。8公里噢！它开起的时候</tspan><tspan x="2089" y="4516">，马达就变成了"呲水枪"，喷出水流。</tspan></text><path class="ln" d="M2060 4528H2491"/></g>
<g id="n9-4"><text class="t"><tspan x="2089" y="4596">我迫不急待的穿上了救生服，和教练一起上了</tspan><tspan x="2089" y="4620">摩托艇，发动起引擎，一溜烟儿，就没影了。</tspan><tspan x="2089" y="4644">我开着摩托艇，海风吹在我的脸上，海浪拍打</tspan><tspan x="2089" y="4668">着车头，时不时水就溅到脸上。我加了加速，</tspan><tspan x="2089" y="4692">上升到87海里的速度！风在我耳边"呼呼"的</tspan><tspan x="2089" y="4716">刮着。什么也看不清了，开得太快了，水花四</tspan><tspan x="2089" y="4740">溅。这么快，我都要"张嘎"了。教练说减速。</tspan><tspan x="2089" y="4764">我经验不丰富，一刹车，我俩差点飞了出去。</tspan></text><path class="ln" d="M2060 4777H2491"/></g>
<g id="n9-5"><text class="t"><tspan x="2089" y="4845">开到了一个小岛上，我上了岸，嘿！这里还有</tspan><tspan x="2089" y="4869">美丽的珊瑚呢！教练带我来的这地叫朱港，那</tspan><tspan x="2089" y="4893">里还有座灯塔。教练还给我表演一些特技，真</tspan><tspan x="2089" y="4917">帅！</tspan></text><path class="ln" d="M2060 4932H2491"/></g>
<g id="n9-6"><text class="t"><tspan x="2089" y="4999">明天我们去哪？啊，我对我接下来的旅程充满</tspan><tspan x="2089" y="5023">好奇和期待！</tspan></text><path class="ln" d="M2060 5036H2491"/></g>

<g id="n11-1"><text class="t"><tspan x="2114" y="5106">前不久，我校60名学生参加了一次体验水上</tspan><tspan x="2114" y="5130">摩托艇的公益培训活动。</tspan></text><path class="ln" d="M2085 5143H2516"/></g>
<g id="n11-2"><text class="t"><tspan x="2114" y="5211">经过大约一个半小时的车程，我们便来训练基</tspan><tspan x="2114" y="5235">地。刚下车，迎面就走来了几位教练，教练对</tspan><tspan x="2114" y="5259">我们说道："这里是水上摩托运动员的训练基</tspan><tspan x="2114" y="5283">地，水上摩托就是能在水上开的摩托。今天，</tspan><tspan x="2114" y="5307">同学们就来体验一下，怎么样？"顿时，大家</tspan><tspan x="2114" y="5331">都异口同声地回答道："好！"我们都兴奋不已</tspan><tspan x="2114" y="5355">，感到士气满满。</tspan></text><path class="ln" d="M2085 5367H2516"/></g>
<g id="n11-3"><text class="t"><tspan x="2114" y="5435">接着，老师把我们带到了湖边，放眼远眺，太</tspan><tspan x="2114" y="5459">平湖湖水清澈透亮，就像一块碧绿的翡翠，镶</tspan><tspan x="2114" y="5483">嵌在大山的怀抱里，湖面上微波粼粼，一辆辆</tspan><tspan x="2114" y="5507">摩托艇，就像是一只只江豚在水中灵活地穿梭</tspan><tspan x="2114" y="5531">，划出美丽的弧线，煞是好看。同学们一个个</tspan><tspan x="2114" y="5555">都穿上了救生衣，迫不及待地上艇体验。体验</tspan><tspan x="2114" y="5579">完一番的同学回来后，有的神情激动，兴奋地</tspan><tspan x="2114" y="5603">直呼再来一次；有的则一脸惊吓，双手直拍胸</tspan><tspan x="2114" y="5627">口做自我安抚状，还边念叨："好紧张呐，太</tspan><tspan x="2114" y="5651">刺激了......"</tspan></text><path class="ln" d="M2085 5664H2516"/></g>
<g id="n11-4"><text class="t"><tspan x="2114" y="5732">很快，轮到我了。我深吸一口气，一咬牙坐了</tspan><tspan x="2114" y="5756">上去，教练随后站在了我的身后驾驶起了摩托</tspan><tspan x="2114" y="5780">艇。随着引擎发出的阵阵低吼声，摩托艇便慢</tspan><tspan x="2114" y="5804">慢驶离岸边，刚出发没多久，教练就加大油门</tspan><tspan x="2114" y="5828">，摩托艇风驰电掣般地从平静的湖面上划过，</tspan><tspan x="2114" y="5852">掀起了一层层浪花。风毫不留情地迎面呼呼刮</tspan><tspan x="2114" y="5876">过来。教练叔叔问我："还要更刺激吗？""要</tspan><tspan x="2114" y="5900">。"我体内的兴奋一下子就被点燃了。话音刚</tspan><tspan x="2114" y="5924">落，叔叔猛地一按油门，我们就像离弦的箭一</tspan><tspan x="2114" y="5948">样冲了出去。尤其是在拐弯的时候，我的身体</tspan><tspan x="2114" y="5972">就好像要掉下去似的，那种感觉真是够悬的，</tspan><tspan x="2114" y="5996">吓得我的心都怦怦直跳。但看着叔叔熟练、轻</tspan><tspan x="2114" y="6020">松地操控着，时间一长，我开始不害怕了，我</tspan><tspan x="2114" y="6044">张开双臂，仿佛自己已经飞了起来。叔叔开始</tspan><tspan x="2114" y="6068">做动作玩花式，一会儿往左倾，一会儿向右倾</tspan><tspan x="2114" y="6092">，我兴奋地哇哇大叫，一串串强劲而有力量的</tspan><tspan x="2114" y="6116">风从我的脸旁刮过，真是全新的体验。这时，</tspan><tspan x="2114" y="6140">叔叔又加速了，摩托艇直奔浮标，当船离浮标</tspan><tspan x="2114" y="6164">仅有10米时，他来了一个漂亮的神龙摆尾，</tspan><tspan x="2114" y="6188">与浮标擦肩而过。我为叔叔精湛的驾驶技术啧</tspan><tspan x="2114" y="6212">啧称赞。</tspan></text><path class="ln" d="M2085 6223H2516"/></g>
<g id="n11-5"><text class="t"><tspan x="2114" y="6291">接下来，我们继续在湖面上转圈，水浪大起来</tspan><tspan x="2114" y="6315">了，像翠绿的屏障向我们涌来，艇忽上忽下，</tspan><tspan x="2114" y="6339">忽左忽右，自由驾驶，不受束缚，真正享受速</tspan><tspan x="2114" y="6363">度带来的激情，享受在波浪的涌动下驰骋飞奔</tspan><tspan x="2114" y="6387">的快感。看着那喷出的数米高的雪白水柱，你</tspan><tspan x="2114" y="6411">的心情将得到最大的释放。这时，教练停了下</tspan><tspan x="2114" y="6435">来，示意让我自己来驾驶。我犹豫了一下，学</tspan><tspan x="2114" y="6459">着教练的样子开了起来。水上摩托艇竟也快速</tspan><tspan x="2114" y="6483">地行驶起来。这时，我心里那股仅剩一点的害</tspan><tspan x="2114" y="6507">怕之情早已完全被兴奋所代替了———这绝对</tspan><tspan x="2114" y="6531">是一次令人难忘的经历，这是一次全新的体验</tspan><tspan x="2114" y="6555">，是一次速度与激情的体验。</tspan></text><path class="ln" d="M2085 6567H2516"/></g>
<g id="n11-6"><text class="t"><tspan x="2114" y="6634">时间总是让快乐变得很短暂。摩托艇的速度慢</tspan><tspan x="2114" y="6658">了下来，向岸边驶去，到岸时，我意犹未尽地</tspan><tspan x="2114" y="6682">下了水上摩托艇，满怀激动地朝同学们走去...</tspan><tspan x="2114" y="6706">...</tspan></text><path class="ln" d="M2085 6720H2516"/></g>

<g id="n13-1"><text class="t"><tspan x="2114" y="6787">今年暑假，我们去马尔代夫——蜜月岛旅游。</tspan><tspan x="2114" y="6811">在旅行中，让我真正感觉最快乐的是：乘坐摩</tspan><tspan x="2114" y="6835">托艇。蜜月岛上的水上游玩运动很多：悠闲自</tspan><tspan x="2114" y="6859">在的香蕉船、"脾气"怪异的帆船、霸气十足的</tspan><tspan x="2114" y="6883">摩托艇......其中，我对霸气十足的摩托艇是又</tspan><tspan x="2114" y="6907">喜欢又害怕，我喜欢是因为可以和浪花"嬉戏"</tspan><tspan x="2114" y="6931">，害怕是因为我怕掉入海中。不过，最后，我</tspan><tspan x="2114" y="6955">还是在爸爸鼓励下，在摩托艇教练允许下，兴</tspan><tspan x="2114" y="6979">奋、害怕、又勇敢地坐上了摩托艇。"宝贝！</tspan><tspan x="2114" y="7003">出发喽！"爸爸的话刚说完，只见，摩托艇宛</tspan><tspan x="2114" y="7027">如一支利箭，瞬间射了出去。"爸爸，太可怕</tspan><tspan x="2114" y="7051">了，快停下！"我大喊着，同时，我的双手不</tspan><tspan x="2114" y="7075">由得更有力地抱紧着爸爸，双眼因害怕更是紧</tspan><tspan x="2114" y="7099">紧地闭着，就这样慢慢地、隐隐约约地还是感</tspan><tspan x="2114" y="7123">觉到了爸爸在减速！减速！最后停了下来。</tspan></text><path class="ln" d="M2085 7135H2516"/></g>
<g id="n13-2"><text class="t"><tspan x="2114" y="7200">一切又归于平静，而神奇的是我们已置xxx中</tspan><tspan x="2114" y="7224">了。而接下来，经过爸爸再一次鼓励下，自己</tspan><tspan x="2114" y="7248">合理的心理调整下，在大海巨大魅力吸引下，</tspan><tspan x="2114" y="7272">这次，我终于勇气十足，不再害怕，不再担心</tspan><tspan x="2114" y="7296">，就这样，我们又再一次"驰骋"起来。</tspan></text><path class="ln" d="M2085 7310H2516"/></g>
<g id="n13-3"><text class="t"><tspan x="2114" y="7378">这次，我们的摩托艇时而像一条快乐的"美人</tspan><tspan x="2114" y="7402">鱼"，在湛蓝的海面上游行穿梭，时而又像威</tspan><tspan x="2114" y="7426">力十足的"海上舰艇"，在汹涌澎湃的大海中风</tspan><tspan x="2114" y="7450">驰电掣"太棒了！"只见溅掀起的浪花不断拍打</tspan><tspan x="2114" y="7474">着我们的双脚，我们的双手，我们的胸膛......</tspan><tspan x="2114" y="7498">这是一种多么令人心动的感觉呀！</tspan></text><path class="ln" d="M2085 7511H2516"/></g>
</g>
</svg>
